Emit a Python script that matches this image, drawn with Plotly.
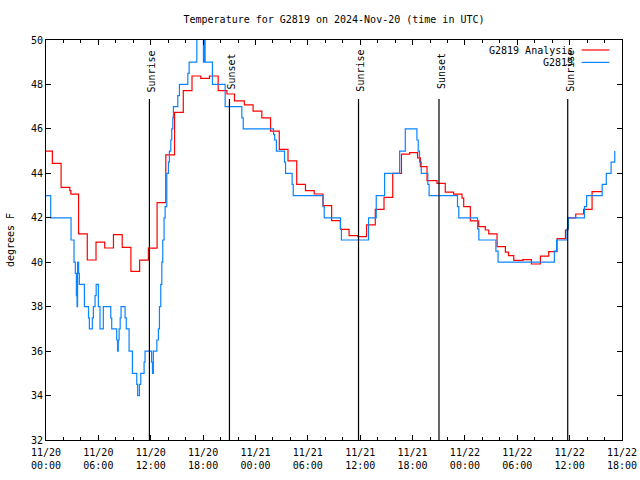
import pandas as pd
import plotly.graph_objects as go

BASE = pd.Timestamp("2024-11-20 00:00")

# Analysis series (hours since 11/20 00:00 UTC, degrees F)
analysis_hours = [0, 0.73, 1.73, 2.73, 2.85, 3.73, 4.73, 5.73, 6.73, 7.73, 8.73, 9.73, 10.73,
                  11.73, 12.73, 13.73, 14.73, 15.73, 16.73, 17.73, 18.73, 19.73, 20.73, 21.6,
                  22.73, 23.73, 24.73, 25.73, 26.73, 27.73, 28.73, 29.73, 30.73, 31.73, 32.73,
                  33.73, 34.73, 35.73, 36.73, 37.73, 38.73, 39.73, 40.73, 41.67, 42.58, 42.9,
                  43.66, 44.8, 45.75, 46.7, 47.67, 47.86, 48.62, 49.58, 50.34, 50.73, 51.68,
                  52.64, 53.0, 53.6, 54.66, 55.62, 56.65, 57.6, 58.56, 59.52, 59.8, 60.7,
                  61.6, 62.57, 63.7]
analysis_temp = [45.0, 44.45, 43.37, 43.22, 43.06, 41.28, 40.1, 40.9, 40.64, 41.24, 40.67, 39.59,
                 40.09, 40.63, 42.68, 44.83, 46.74, 47.72, 48.38, 48.27, 48.38, 47.72, 47.57,
                 47.26, 47.08, 46.8, 46.5, 45.9, 45.08, 44.56, 43.5, 43.22, 43.07, 42.55, 41.87,
                 41.48, 41.2, 41.15, 41.68, 42.38, 42.92, 44.0, 44.86, 44.93, 44.7, 44.3, 43.67,
                 43.55, 43.15, 43.06, 42.88, 42.5, 41.86, 41.6, 41.45, 41.28, 40.7, 40.45, 40.3,
                 40.08, 40.12, 39.92, 40.27, 40.48, 41.06, 41.45, 42.0, 42.17, 42.38, 43.18,
                 43.18]

# Station observations
obs_hours = [0, 0.54, 2.87, 3.21, 3.36, 3.48, 3.56, 3.62, 3.74, 3.82, 4.4, 4.87, 4.97, 5.31,
             5.43, 5.62, 5.75, 6.0, 6.19, 6.57, 7.42, 7.53, 8.1, 8.2, 8.28, 8.38, 8.5, 8.6,
             9.06, 9.2, 9.52, 9.9, 10.4, 10.5, 10.7, 10.86, 11.24, 11.35, 12.1, 12.2, 12.3,
             12.7, 12.88, 13.0, 13.15, 13.27, 13.38, 13.53, 13.65, 13.84, 14.03, 14.14, 14.3,
             14.41, 14.53, 14.6, 15.1, 15.29, 16.25, 16.4, 17.28, 18.04, 18.12, 18.23, 19.07,
             20.53, 22.44, 22.6, 26.07, 26.2, 26.4, 27.33, 27.45, 28.2, 28.33, 31.75, 31.88,
             33.75, 33.85, 36.96, 37.84, 38.8, 40.52, 41.17, 42.5, 42.65, 42.8, 43.0, 43.75,
             43.9, 47.15, 47.3, 49.45, 49.6, 51.55, 51.8, 58.25, 58.5, 59.7, 59.85, 61.7,
             61.95, 63.73, 64.2, 64.75, 65.17]
obs_temp = [43, 42, 41, 40, 39.5, 38.5, 38, 40, 39.5, 39, 38, 37.5, 37, 37.5, 38, 38.5, 39, 38,
            37, 38, 37.5, 37, 36.5, 36, 36.5, 37, 37.5, 38, 37.5, 37, 36, 35, 34.5, 34, 34.5,
            35, 35.5, 36, 35.5, 35, 36, 36.5, 37, 38, 39, 40, 41, 42, 42.5, 44, 44.5, 45, 45.5,
            46, 46.5, 47, 47.5, 48, 48.5, 49, 51, 49, 51, 49, 48, 47, 46.5, 46, 45.75, 45.5, 45,
            44.5, 44, 43.5, 43, 42.5, 42, 41.5, 41, 42, 43, 44, 45, 46, 45.5, 45, 44.5, 44,
            43.5, 43, 42.5, 42, 41.5, 41, 40.5, 40, 40.5, 41, 41.5, 42, 42.5, 43, 43.5, 44,
            44.5, 45]

sun_labels = ["Sunrise", "Sunset", "Sunrise", "Sunset", "Sunrise"]
sun_hours = [11.85, 21.02, 35.81, 45.03, 59.78]


def to_time(hours):
    return [BASE + pd.Timedelta(hours=h) for h in hours]


FONT = "DejaVu Sans Mono"
RED = "#ff0000"
BLUE = "#0a84ff"

fig = go.Figure()
fig.add_trace(go.Scatter(x=to_time(analysis_hours), y=analysis_temp, mode="lines",
                         line=dict(shape="hv", color=RED, width=1.2),
                         name="G2819 Analysis", showlegend=False))
fig.add_trace(go.Scatter(x=to_time(obs_hours), y=obs_temp, mode="lines",
                         line=dict(shape="hv", color=BLUE, width=1.2),
                         name="G2819", showlegend=False))

for lab, h in zip(sun_labels, sun_hours):
    t = BASE + pd.Timedelta(hours=h)
    fig.add_shape(type="line", xref="x", yref="y", x0=t, x1=t, y0=32, y1=47.35,
                  line=dict(color="black", width=1.2))
    fig.add_annotation(x=t, y=48.6, xref="x", yref="y", text=lab, textangle=-90,
                       showarrow=False, xanchor="center", yanchor="middle", xshift=2,
                       font=dict(family=FONT, size=10, color="black"))

# legend (text on left, sample line on right, gnuplot style)
for i, (name, col) in enumerate([("G2819 Analysis", RED), ("G2819", BLUE)]):
    yp = 0.975 - i * 0.031
    fig.add_annotation(x=0.918, y=yp, xref="paper", yref="paper", text=name,
                       showarrow=False, xanchor="right", yanchor="middle",
                       font=dict(family=FONT, size=10, color="black"))
    fig.add_shape(type="line", xref="paper", yref="paper", x0=0.930, x1=0.978,
                  y0=yp, y1=yp, line=dict(color=col, width=1.2))

fig.update_layout(
    width=640, height=480,
    margin=dict(l=46, r=18, t=40, b=40, autoexpand=False),
    paper_bgcolor="white", plot_bgcolor="white",
    font=dict(family=FONT, size=10, color="black"),
    title=dict(text="Temperature for G2819 on 2024-Nov-20 (time in UTC)",
               x=0.5, xref="paper", y=1 - 19 / 480, yanchor="middle",
               font=dict(family=FONT, size=10, color="black")),
    showlegend=False,
)
fig.update_xaxes(
    type="date", automargin=False,
    range=[BASE, BASE + pd.Timedelta(hours=66)],
    tick0=BASE, dtick=6 * 3600 * 1000, tickformat="%m/%d<br>%H:%M",
    ticks="inside", ticklen=5, tickcolor="black", ticklabelstandoff=3,
    minor=dict(ticks="inside", ticklen=3, dtick=2 * 3600 * 1000, tickcolor="black"),
    showline=True, linecolor="black", linewidth=1, mirror="allticks",
    showgrid=False, zeroline=False,
    tickfont=dict(family=FONT, size=10, color="black"),
)
fig.update_yaxes(
    automargin=False,
    range=[32, 50], dtick=2, tick0=32,
    ticks="inside", ticklen=5, tickcolor="black",
    showline=True, linecolor="black", linewidth=1, mirror="allticks",
    showgrid=False, zeroline=False,
    title=dict(text="degrees F", standoff=14, font=dict(family=FONT, size=10, color="black")),
    tickfont=dict(family=FONT, size=10, color="black"),
)

fig.write_html("out.html")
